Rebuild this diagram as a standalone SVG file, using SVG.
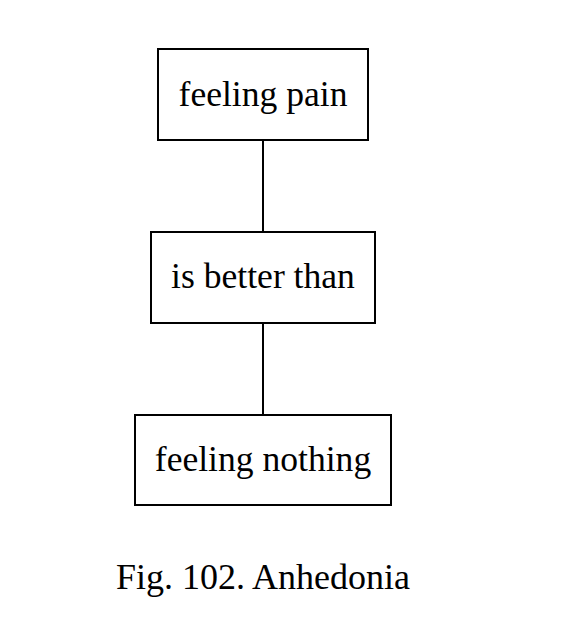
<svg xmlns="http://www.w3.org/2000/svg" width="576" height="644" viewBox="0 0 576 644">
<style>
.box{fill:#fff;stroke:#000;stroke-width:2}
.lbl{font-family:"Liberation Serif",serif;font-size:35.6px;text-anchor:middle;fill:#000}
.cap{font-family:"Liberation Serif",serif;font-size:36px;text-anchor:middle;fill:#000}
.edge{stroke:#000;stroke-width:2;fill:none}
</style>
<rect width="576" height="644" fill="#fff"/>
<g id="connectors">
<line class="edge" x1="263" y1="140" x2="263" y2="232"/>
<line class="edge" x1="263" y1="323" x2="263" y2="415"/>
</g>
<g id="n1"><rect class="box" x="158" y="49" width="210" height="91"/><text class="lbl" x="263" y="106">feeling pain</text></g>
<g id="n2"><rect class="box" x="151" y="232" width="224" height="91"/><text class="lbl" x="263" y="288">is better than</text></g>
<g id="n3"><rect class="box" x="135" y="415" width="256" height="90"/><text class="lbl" x="263" y="471">feeling nothing</text></g>
<text class="cap" x="263" y="589">Fig. 102. Anhedonia</text>
</svg>
